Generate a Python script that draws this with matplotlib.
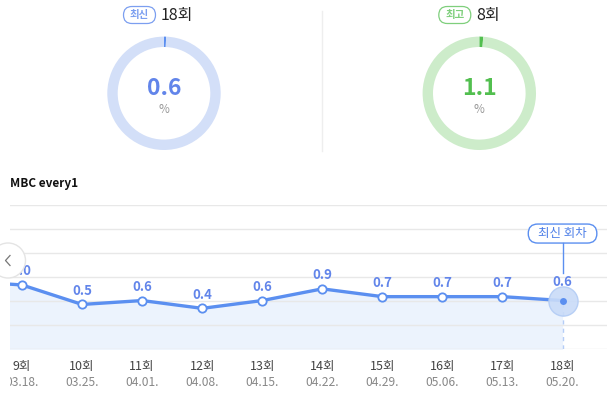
import numpy as np
import matplotlib
matplotlib.use("Agg")
import matplotlib.pyplot as plt
from matplotlib.patches import FancyBboxPatch, Circle, Rectangle

plt.rcParams['font.family'] = ['Noto Sans CJK KR', 'DejaVu Sans']

# ratings by episode (8회 is just off the left edge)
episodes = [8, 9, 10, 11, 12, 13, 14, 15, 16, 17, 18]
ratings = [1.1, 1.0, 0.5, 0.6, 0.4, 0.6, 0.9, 0.7, 0.7, 0.7, 0.6]
dates = ["03.11.", "03.18.", "03.25.", "04.01.", "04.08.", "04.15.",
         "04.22.", "04.29.", "05.06.", "05.13.", "05.20."]

latest_ep, latest_val = 18, 0.6
best_ep, best_val = 8, 1.1
channel = "MBC every1"

W, H = 609, 401
fig = plt.figure(figsize=(W / 100, H / 100), dpi=100)

BLUE = "#5b8ff0"
LABEL_BLUE = "#6285ea"
LIGHT_BLUE = "#d3dff8"
GREEN = "#52bf4f"
LIGHT_GREEN = "#cdecca"
FILL = "#ecf3fd"
GRID = "#e8e8e8"


def px_axes(x0, y0, x1, y1):
    # axes from pixel box (top-left origin)
    return fig.add_axes([x0 / W, 1 - y1 / H, (x1 - x0) / W, (y1 - y0) / H])


# overlay axes in pixel coordinates for header decorations
ov = fig.add_axes([0, 0, 1, 1])
ov.set_xlim(0, W)
ov.set_ylim(H, 0)
ov.axis("off")
ov.set_zorder(5)
ov.patch.set_alpha(0)

# divider
ov.plot([322.3, 322.3], [11, 151], color="#eeeeee", lw=1)


def donut(cx, cy, value, ring, bar, color, tag, tag_color, ep):
    r_out = 56.7
    ax = px_axes(cx - r_out, cy - r_out, cx + r_out, cy + r_out)
    ax.pie([value, 100 - value], colors=[bar, ring], startangle=90,
           counterclock=False, wedgeprops=dict(width=10.4 / r_out, linewidth=0))
    ax.set_xlim(-1, 1)
    ax.set_ylim(-1, 1)
    ax.set_aspect("equal")
    ax.axis("off")
    ov.text(cx, cy - 5, f"{value:.1f}", color=color, fontsize=16.5, fontweight="bold",
            ha="center", va="center")
    ov.text(cx, cy + 16, "%", color="#999999", fontsize=8.5, ha="center", va="center")
    # header pill + episode text
    bx = cx - 24.5
    pill = FancyBboxPatch((bx - 16, 6.5), 32, 17, boxstyle="round,pad=0,rounding_size=8.5",
                          fc="white", ec=tag_color, lw=0.9)
    ov.add_patch(pill)
    ov.text(bx, 15, tag, color=tag_color, fontsize=7.5, fontweight="bold",
            ha="center", va="center")
    ov.text(bx + 21.5, 15.5, f"{ep}회", color="#222222", fontsize=11.5,
            ha="left", va="center")


donut(164, 93.3, latest_val, LIGHT_BLUE, BLUE, LABEL_BLUE, "최신", "#7c9ff0", latest_ep)
donut(479.3, 93.3, best_val, LIGHT_GREEN, GREEN, GREEN, "최고", "#7fcf7c", best_ep)

ov.text(10, 183, channel, color="#111111", fontsize=8.5, fontweight="bold",
        ha="left", va="center")

# line chart
ax = px_axes(10, 205, 607, 349.3)
ax.set_xlim(8.8, 18.74)
ylo, yhi = -0.65, 3.05
ax.set_ylim(ylo, yhi)
for g in np.linspace(ylo, yhi, 7):
    ax.axhline(g, color=GRID, lw=1, zorder=1.5)
for s in ax.spines.values():
    s.set_visible(False)
ax.set_xticks([])
ax.set_yticks([])

ax.fill_between(episodes, ratings, ylo, color=FILL, lw=0, zorder=1)
ax.plot(episodes, ratings, color=BLUE, lw=2.4, zorder=3, solid_capstyle="round")
ax.plot(episodes[:-1], ratings[:-1], "o", ms=6, mfc="white", mec=BLUE, mew=1.3, zorder=4)

# latest episode highlight
ax.plot([latest_ep, latest_ep], [ylo, latest_val], color="#b5cdf7", lw=1,
        ls=(0, (3, 3)), zorder=2)
ax.plot(latest_ep, latest_val, "o", ms=21, mfc="#c9dbf8", mec="#b3ccf5", mew=1,
        alpha=0.9, zorder=4)
ax.plot(latest_ep, latest_val, "o", ms=5, mfc=BLUE, mec="none", zorder=5)

for ep, v in zip(episodes[1:], ratings[1:]):
    off = 18.3 if ep == latest_ep else 13.5
    ax.annotate(f"{v:.1f}", (ep, v), xytext=(0, off), textcoords="offset pixels",
                ha="center", va="center", color=LABEL_BLUE, fontsize=9.5,
                fontweight="bold", zorder=6)

# connector + badge above the latest point
lx, ly = ax.transData.transform((latest_ep, latest_val))
x_px, y_px = lx, H - ly
ov.plot([x_px, x_px], [y_px - 27.5, y_px - 58], color=BLUE, lw=1)
badge = FancyBboxPatch((x_px - 34.3, y_px - 76.5), 68.6, 19,
                       boxstyle="round,pad=0,rounding_size=9.5",
                       fc="white", ec=BLUE, lw=1)
ov.add_patch(badge)
ov.text(x_px, y_px - 67, "최신 회차", color="#4d7fe8", fontsize=9,
        ha="center", va="center")

tr = ax.get_xaxis_transform()
for ep, d in zip(episodes[1:], dates[1:]):
    ax.annotate(f"{ep}회", (ep, 0), xycoords=tr, xytext=(0, -17.5),
                textcoords="offset pixels", ha="center", va="center",
                color="#444444", fontsize=9, annotation_clip=False)
    ax.annotate(d, (ep, 0), xycoords=tr, xytext=(0, -33),
                textcoords="offset pixels", ha="center", va="center",
                color="#888888", fontsize=8.7, annotation_clip=False)

# clip left edge of labels
ov.add_patch(Rectangle((0, 352), 10, 45, fc="white", ec="none", zorder=1))

# left scroll button
ov.add_patch(Circle((8, 260.5), 17.5, fc="white", ec="#e4e4e4", lw=1, zorder=6))
ov.plot([10, 5.5, 10], [255.5, 260.5, 265.5], color="#777777", lw=0.9, zorder=7)

fig.savefig("out.png", dpi=100)
